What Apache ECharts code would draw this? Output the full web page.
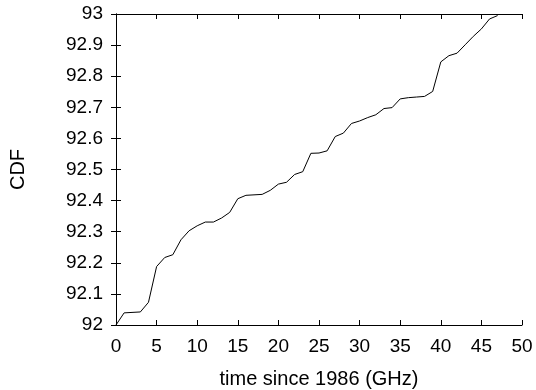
<!DOCTYPE html>
<html>
<head>
<meta charset="utf-8">
<script src="https://cdn.jsdelivr.net/npm/echarts@6/dist/echarts.min.js"></script>
<style>html,body{margin:0;padding:0;background:#fff;}#c{width:536px;height:390px;}</style>
</head>
<body>
<div id="c"></div>
<script>
const xValues = [0,1,3,4,5,6,7,8,9,10,11,12,13,14,15,16,18,19,20,21,22,23,24,25,26,27,28,29,30,31,32,33,34,35,36,37,38,39,40,41,42,43,44,45,46,47];
const cdfValues = [92,92.039,92.042,92.073,92.188,92.217,92.226,92.274,92.303,92.319,92.331,92.331,92.344,92.362,92.406,92.417,92.42,92.433,92.453,92.459,92.484,92.493,92.552,92.553,92.56,92.606,92.617,92.648,92.656,92.667,92.676,92.696,92.699,92.727,92.731,92.733,92.735,92.751,92.846,92.866,92.874,92.901,92.928,92.952,92.984,92.995];
const xTicks = [0,5,10,15,20,25,30,35,40,45,50];
const yTicks = [92,92.1,92.2,92.3,92.4,92.5,92.6,92.7,92.8,92.9,93];

const font = 'Liberation Sans, Arial, sans-serif';
const axisLine = {show:true, lineStyle:{color:'#000', width:1}};
const tick = {show:true, inside:true, length:5, lineStyle:{color:'#000', width:1}};
const chart = echarts.init(document.getElementById('c'));
chart.setOption({
  animation:false,
  backgroundColor:'#fff',
  grid:{left:116, right:14, top:14, bottom:65, containLabel:false, outerBoundsMode:'none'},
  xAxis:[{
    type:'value', min:0, max:50, interval:5, position:'bottom',
    axisLine, axisTick:tick, splitLine:{show:false},
    axisLabel:{color:'#000', fontSize:19, fontFamily:font, margin:12,
      formatter:v=>xTicks.includes(v)?String(v):''},
    name:'time since 1986 (GHz)', nameLocation:'middle', nameGap:44,
    nameTextStyle:{color:'#000', fontSize:20, fontFamily:font}
  },{
    type:'value', min:0, max:50, interval:5, position:'top',
    axisLine, axisTick:tick, axisLabel:{show:false}, splitLine:{show:false}
  }],
  yAxis:[{
    type:'value', min:92, max:93, interval:0.1, position:'left',
    axisLine, axisTick:tick, splitLine:{show:false},
    axisLabel:{color:'#000', fontSize:19, fontFamily:font, margin:13,
      formatter:v=>{const r=Math.round(v*10)/10; return yTicks.includes(r)?String(r):'';}},
    name:'CDF', nameLocation:'middle', nameGap:88,
    nameTextStyle:{color:'#000', fontSize:20, fontFamily:font}
  },{
    type:'value', min:92, max:93, interval:0.1, position:'right',
    axisLine, axisTick:tick, axisLabel:{show:false}, splitLine:{show:false}
  }],
  series:[{
    type:'line', xAxisIndex:0, yAxisIndex:0,
    data:xValues.map((x,i)=>[x,cdfValues[i]]),
    showSymbol:false, symbol:'none',
    lineStyle:{color:'#000', width:1}
  }]
});
</script>
</body>
</html>
